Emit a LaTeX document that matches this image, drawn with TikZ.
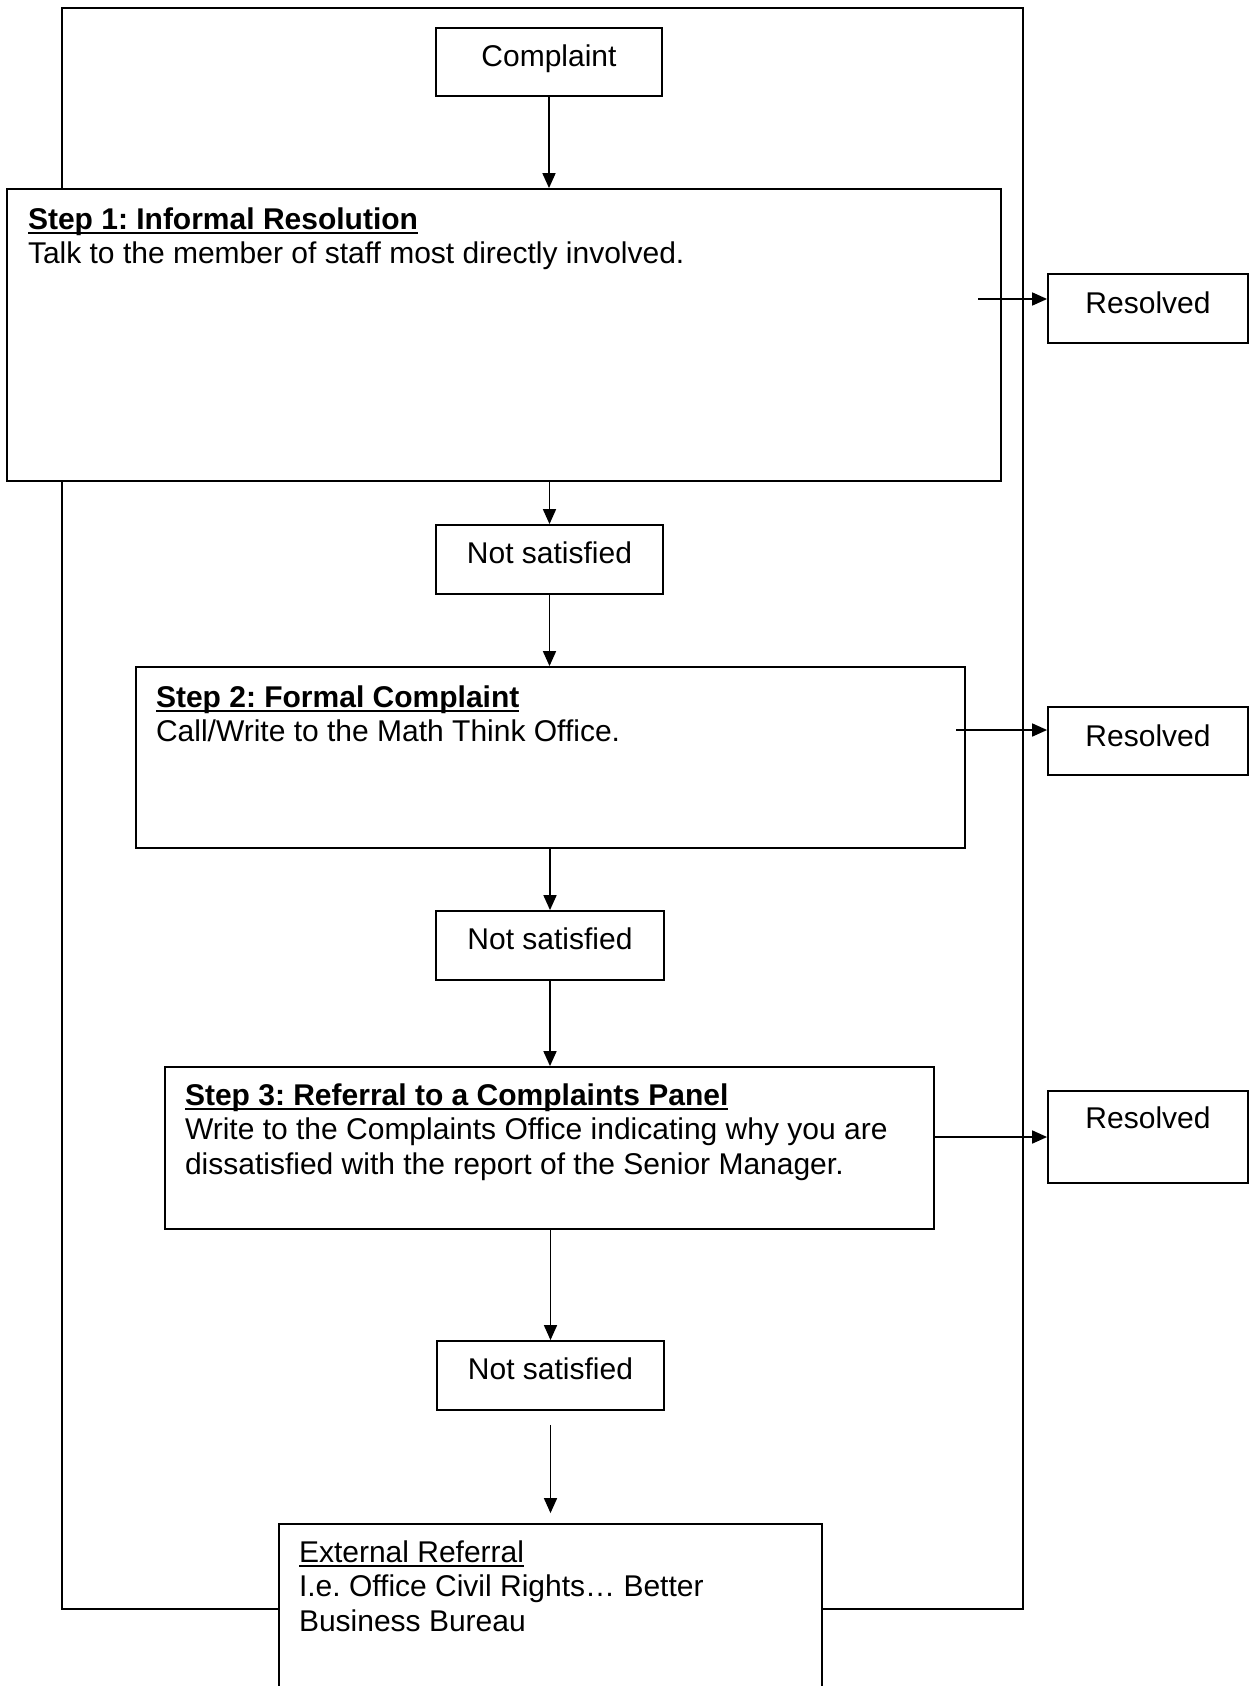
\documentclass[tikz,border=0pt]{standalone}
\usepackage{fontspec}
\setmainfont{Liberation Sans}
\usetikzlibrary{arrows.meta}
\frenchspacing
\newcommand\ulbox[1]{\leavevmode\setbox0\hbox{#1}\rlap{\rule[-2.6pt]{\wd0}{0.9pt}}\box0}
\tikzset{
  bx/.style={draw, line width=0.9pt, fill=white, inner xsep=0pt, inner ysep=0pt,
    font=\fontsize{15pt}{17.25pt}\selectfont\frenchspacing},
  arr/.style={line width=0.85pt, -{Triangle[length=7.5pt,width=6.5pt]}},
  framebox/.style={draw, line width=0.7pt, inner sep=0pt}
}
\begin{document}
\begin{tikzpicture}[x=0.5pt,y=-0.5pt]
\clip (0,0) rectangle (1253,1686);
\fill[white] (0,0) rectangle (1253,1686);
\node[framebox, minimum width=480.5pt, minimum height=800.5pt] (frame) at (542.5,808.5) {};

\node[bx, minimum width=113pt, text height=19.5pt, text depth=14.5pt] (comp) at (549,62) {Complaint};

\node[bx, inner xsep=10.5pt, minimum width=497pt, text height=20pt, text depth=126pt] (step1) at (504,335)
  {\parbox[t]{476pt}{\ulbox{\textbf{Step 1: Informal Resolution}}\\Talk to the member of staff most directly involved.}};
\node[bx, minimum width=100pt, text height=19.5pt, text depth=15pt] (res1) at (1148,308.5) {Resolved};

\node[bx, minimum width=113.5pt, text height=19pt, text depth=15.5pt] (ns1) at (549.5,559.5) {Not satisfied};

\node[bx, inner xsep=10pt, minimum width=414.5pt, text height=20pt, text depth=70.5pt] (step2) at (550.5,757.5)
  {\parbox[t]{394.5pt}{\ulbox{\textbf{Step 2: Formal Complaint}}\\Call/Write to the Math Think Office.}};
\node[bx, minimum width=100pt, text height=19.5pt, text depth=14.5pt] (res2) at (1148,741) {Resolved};

\node[bx, minimum width=114pt, text height=19pt, text depth=15.5pt] (ns2) at (550,945.5) {Not satisfied};

\node[bx, inner xsep=10pt, minimum width=384.5pt, text height=19pt, text depth=62pt] (step3) at (549.5,1148)
  {\parbox[t]{364.5pt}{\ulbox{\textbf{Step 3: Referral to a Complaints Panel}}\\Write to the Complaints Office indicating why you are\\dissatisfied with the report of the Senior Manager.}};
\node[bx, minimum width=100pt, text height=18.5pt, text depth=27.5pt] (res3) at (1148,1137) {Resolved};

\node[bx, minimum width=113.5pt, text height=19pt, text depth=15.5pt] (ns3) at (550.5,1375.5) {Not satisfied};

\node[bx, inner xsep=10pt, minimum width=271.5pt, text height=19pt, text depth=79pt] (ext) at (550.5,1622)
  {\parbox[t]{251.5pt}{\ulbox{External Referral}\\I.e. Office Civil Rights… Better\\Business Bureau}};

% vertical connectors
\draw[arr] (comp.south) -- (comp.south |- step1.north);
\draw[arr] (ns1.north |- step1.south) -- (ns1.north);
\draw[arr] (ns1.south) -- (ns1.south |- step2.north);
\draw[arr] (ns2.north |- step2.south) -- (ns2.north);
\draw[arr] (ns2.south) -- (ns2.south |- step3.north);
\draw[arr] (ns3.north |- step3.south) -- (ns3.north);
\draw[arr, shorten <=7pt, shorten >=5pt] (ns3.south) -- (ns3.south |- ext.north);

% horizontal connectors
\coordinate (a1) at (978,299);
\coordinate (a2) at (956,730);
\draw[arr] (a1) -- (a1 -| res1.west);
\draw[arr] (a2) -- (a2 -| res2.west);
\draw[arr] (step3.east |- res3.west) -- (res3.west);
\end{tikzpicture}
\end{document}
